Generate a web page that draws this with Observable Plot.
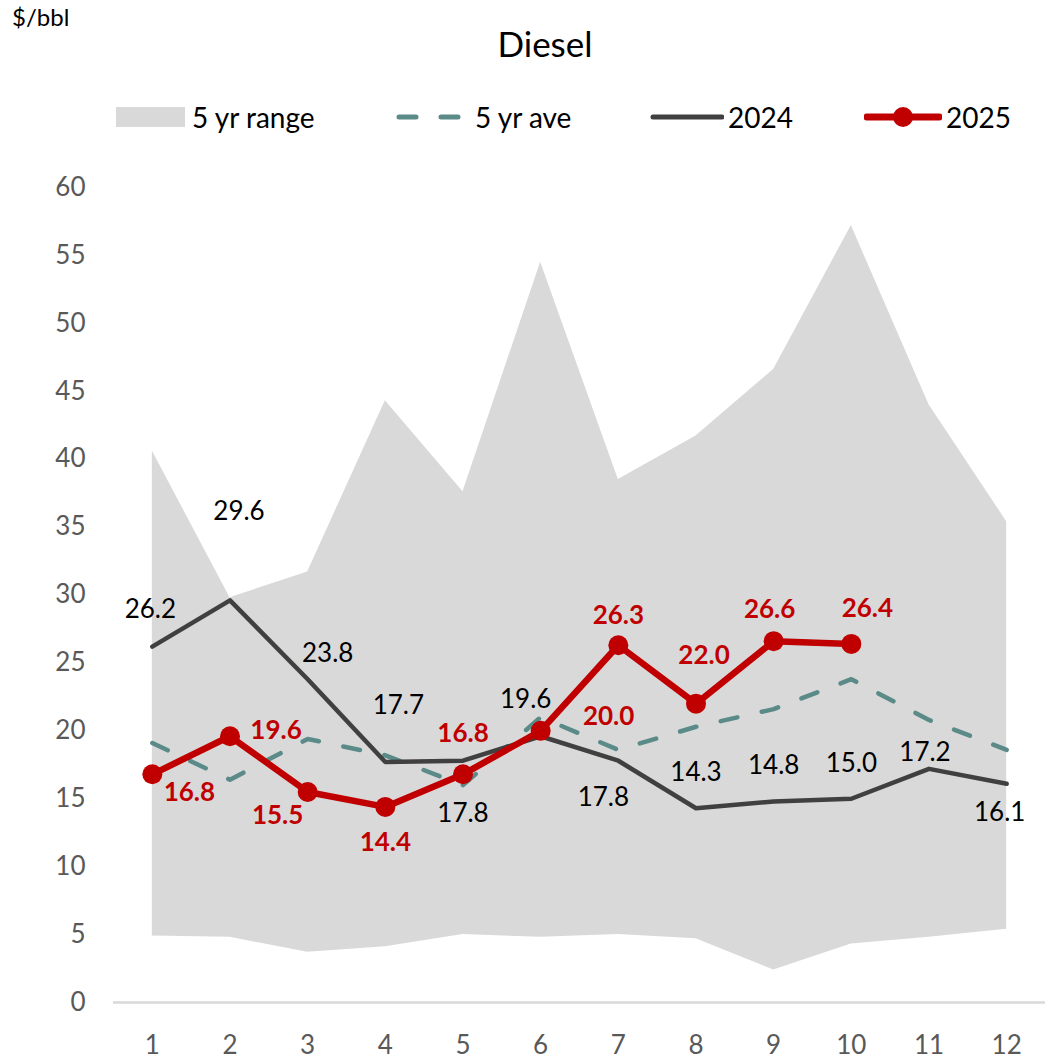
<!DOCTYPE html>
<html>
<head>
<meta charset="utf-8">
<script src="https://cdn.jsdelivr.net/npm/d3@7"></script>
<script src="https://cdn.jsdelivr.net/npm/@observablehq/plot@0.6"></script>
<style>
  body { margin: 0; background: #fff; font-family: Lato, "Open Sans", sans-serif; }
  #wrap { position: relative; width: 1045px; height: 1061px; }
  #unit { position: absolute; left: 12px; top: 2px; font-size: 24px; color: #000; }
  #title { position: absolute; left: 0; width: 1090px; top: 22px; text-align: center; font-size: 35px; color: #000; }
  .leg { position: absolute; top: 100px; font-size: 28px; color: #000; display: flex; align-items: center; height: 34px; }
  .leg svg { margin-right: 4px; }
  #chart { position: absolute; left: 0; top: 150px; }
</style>
</head>
<body>
<div id="wrap">
  <div id="unit">$/bbl</div>
  <div id="title">Diesel</div>
  <div class="leg" style="left:116px"><svg width="72" height="22"><rect x="0" y="1" width="69" height="20" fill="#d9d9d9"/></svg>5 yr range</div>
  <div class="leg" style="left:395px"><svg width="76" height="22"><line x1="4" y1="11" x2="70" y2="11" stroke="#5b8b88" stroke-width="5" stroke-linecap="round" stroke-dasharray="17,25"/></svg>5 yr ave</div>
  <div class="leg" style="left:650px"><svg width="74" height="22"><line x1="3" y1="11" x2="72" y2="11" stroke="#404040" stroke-width="5" stroke-linecap="round"/></svg>2024</div>
  <div class="leg" style="left:864px"><svg width="78" height="22"><line x1="3" y1="11" x2="75" y2="11" stroke="#c00000" stroke-width="7" stroke-linecap="round"/><circle cx="39" cy="11" r="10" fill="#c00000"/></svg>2025</div>
  <div id="chart"></div>
</div>
<script>
const months = [1,2,3,4,5,6,7,8,9,10,11,12];
const rangeHigh = [40.6, 29.8, 31.7, 44.3, 37.6, 54.5, 38.5, 41.7, 46.6, 57.2, 44.0, 35.4];
const rangeLow  = [4.9, 4.8, 3.7, 4.1, 5.0, 4.8, 5.0, 4.7, 2.4, 4.3, 4.8, 5.4];
const avg5yr    = [19.1, 16.4, 19.4, 18.2, 16.0, 21.0, 18.6, 20.3, 21.6, 23.8, 20.8, 18.6];
const y2024     = [26.2, 29.6, 23.8, 17.7, 17.8, 19.6, 17.8, 14.3, 14.8, 15.0, 17.2, 16.1];
const y2025     = [16.8, 19.6, 15.5, 14.4, 16.8, 20.0, 26.3, 22.0, 26.6, 26.4];
const yTicks    = [0,5,10,15,20,25,30,35,40,45,50,55,60];

// label placement offsets (pixels) – layout only
const off2024 = [[-2,-37],[9,-89],[20,-26],[13,-56],[0,53],[-15,-37],[-15,37],[0,-36],[0,-36],[0,-35],[-4,-16],[-7,29]];
const off2025 = [[37,18],[46,-6],[-30,24],[0,36],[0,-41],[68,-14],[0,-30],[8,-48],[-4,-32],[16,-35]];

const band = months.map((m,i)=>({m, lo: rangeLow[i], hi: rangeHigh[i]}));
const avg = months.map((m,i)=>({m, v: avg5yr[i]}));
const s24 = months.map((m,i)=>({m, v: y2024[i]}));
const s25 = y2025.map((v,i)=>({m: months[i], v}));

const labels24 = s24.map((d,i)=>Plot.text([d], {x:"m", y:"v", text: d=>d.v.toFixed(1), dx: off2024[i][0], dy: off2024[i][1], fill:"#000", fontSize: 26}));
const labels25 = s25.map((d,i)=>Plot.text([d], {x:"m", y:"v", text: d=>d.v.toFixed(1), dx: off2025[i][0], dy: off2025[i][1], fill:"#c00000", fontSize: 26, fontWeight: "bold"}));

const chart = Plot.plot({
  width: 1045,
  height: 911,
  marginTop: 37,
  marginBottom: 59,
  marginLeft: 113,
  marginRight: 0,
  style: {fontFamily: "Lato, 'Open Sans', sans-serif", background: "transparent", overflow: "visible"},
  x: {domain: [0.5, 12.5], label: null},
  y: {domain: [0, 60], label: null},
  marks: [
    Plot.areaY(band, {x:"m", y1:"lo", y2:"hi", fill:"#d9d9d9"}),
    Plot.ruleY([0], {stroke:"#d9d9d9", strokeWidth: 2.5}),
    Plot.lineY(avg, {x:"m", y:"v", stroke:"#5b8b88", strokeWidth: 4.5, strokeDasharray:"17,25", strokeLinecap:"round"}),
    Plot.lineY(s24, {x:"m", y:"v", stroke:"#404040", strokeWidth: 4.5}),
    Plot.lineY(s25, {x:"m", y:"v", stroke:"#c00000", strokeWidth: 6.5}),
    Plot.dot(s25, {x:"m", y:"v", r: 10, fill:"#c00000"}),
    ...labels24,
    ...labels25,
    Plot.axisX({ticks: months, tickSize: 0, tickPadding: 33, fontSize: 26, fill:"#595959", tickFormat: d=>String(d), label: null}),
    Plot.axisY({ticks: yTicks, tickSize: 0, tickPadding: 28, fontSize: 26, fill:"#595959", label: null})
  ]
});
document.getElementById("chart").appendChild(chart);
</script>
</body>
</html>
